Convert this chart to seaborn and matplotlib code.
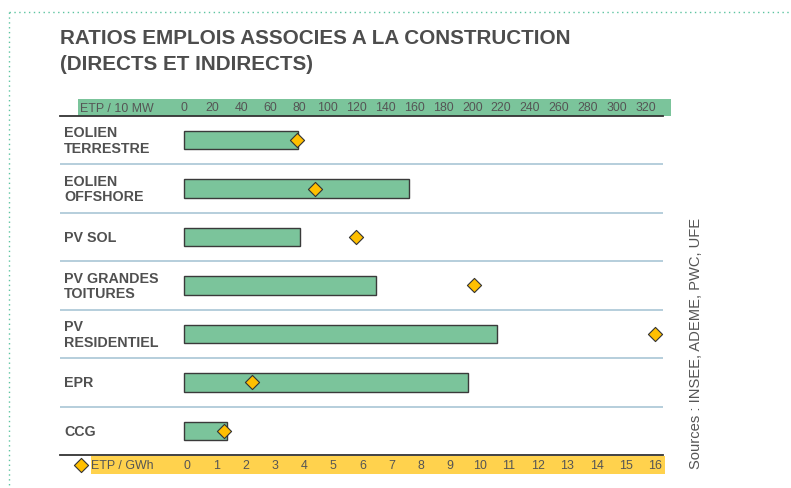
import numpy as np
import matplotlib
matplotlib.use("Agg")
import matplotlib.pyplot as plt
import seaborn as sns
from matplotlib.patches import Rectangle
from matplotlib.lines import Line2D

# data
categories = ["EOLIEN\nTERRESTRE", "EOLIEN\nOFFSHORE", "PV SOL", "PV GRANDES\nTOITURES",
              "PV\nRESIDENTIEL", "EPR", "CCG"]
etp_10mw = [79, 156, 81, 133, 217, 197, 30]          # bars, top scale
etp_gwh = [3.77, 4.38, 5.78, 9.82, 16.0, 2.23, 1.27]  # diamonds, bottom scale
top_ticks = list(range(0, 321, 20))
bottom_ticks = list(range(0, 17))

GREEN = "#7bc49b"
YELLOW = "#ffd24d"
DIAMOND = "#ffbf00"
TEXT = "#555555"
TICK_FS = 8.9

W, H = 791, 489


def fx(px):
    return px / W


def fy(py):
    return 1 - py / H


sns.set_theme(style="white")
plt.rcParams["font.family"] = ["Liberation Sans", "DejaVu Sans"]

fig = plt.figure(figsize=(W / 100, H / 100), dpi=100)

# dotted frame
fig.add_artist(Line2D([fx(9), fx(790)], [fy(13), fy(13)], ls=(0, (1, 2.5)), lw=1, color="#5cc4a0"))
fig.add_artist(Line2D([fx(9), fx(9)], [fy(13), fy(489)], ls=(0, (1, 2.5)), lw=1, color="#5cc4a0"))

# title
fig.text(fx(60), fy(44), "RATIOS EMPLOIS ASSOCIES A LA CONSTRUCTION", fontsize=14.9,
         fontweight="bold", color="#4d4d4d", va="baseline", ha="left")
fig.text(fx(60), fy(69.5), "(DIRECTS ET INDIRECTS)", fontsize=14.9,
         fontweight="bold", color="#4d4d4d", va="baseline", ha="left")

# axis bands
fig.add_artist(Rectangle((fx(78), fy(117)), fx(671) - fx(78), fy(100) - fy(117),
                         transform=fig.transFigure, color=GREEN, lw=0, zorder=-1))
fig.add_artist(Rectangle((fx(91), fy(474.5)), fx(665) - fx(91), fy(456.5) - fy(474.5),
                         transform=fig.transFigure, color=YELLOW, lw=0, zorder=-1))
fig.text(fx(80), fy(108.5), "ETP / 10 MW", fontsize=TICK_FS, color=TEXT, ha="left", va="center")

ax = fig.add_axes([fx(60), fy(456), fx(663) - fx(60), fy(117) - fy(456)])
ax.set_facecolor("none")

sns.barplot(x=etp_10mw, y=categories, orient="h", color=GREEN, saturation=1,
            edgecolor="#3a3a3a", linewidth=1, width=0.38, ax=ax, zorder=3)

for i in range(len(categories) - 1):
    ax.axhline(i + 0.5, color="#a9c6d6", lw=1.2, zorder=1)

for i, name in enumerate(categories):
    ax.text(4 / 603, i, name, transform=ax.get_yaxis_transform(), ha="left", va="center",
            fontsize=10.3, fontweight="bold", color="#505050", linespacing=1.15)

# diamonds on the second scale
ax2 = ax.twiny()
sns.scatterplot(x=etp_gwh, y=np.arange(len(categories)), marker="D", s=52, color=DIAMOND,
                edgecolor="#333333", linewidth=0.8, label="ETP / GWh", ax=ax2, zorder=5)
ax2.set_xlim((60 - 187) / 29.25, (663 - 187) / 29.25)
ax2.xaxis.set_ticks_position("bottom")
ax2.xaxis.set_label_position("bottom")
ax2.set_xticks(bottom_ticks)
ax2.set_xticklabels([str(t) for t in bottom_ticks])
ax2.tick_params(axis="x", length=0, labelsize=TICK_FS, colors=TEXT, pad=3.2,
                labeltop=False, labelbottom=True)
ax2.set_xlabel("")
ax2.set_ylabel("")
for s in ax2.spines.values():
    s.set_visible(False)

# first scale on top (after twiny, which moves it to the bottom)
ax.set_xlim((60 - 183.5) / 1.444, (663 - 183.5) / 1.444)
ax.xaxis.tick_top()
ax.set_xticks(top_ticks)
ax.set_xticklabels([str(t) for t in top_ticks])
ax.tick_params(axis="x", length=0, labelsize=TICK_FS, colors=TEXT, pad=2.2,
               labeltop=True, labelbottom=False)
ax.tick_params(axis="y", left=False, labelleft=False)
ax.set_xlabel("")
ax.set_ylabel("")
for s in ["left", "right"]:
    ax.spines[s].set_visible(False)
for s in ["top", "bottom"]:
    ax.spines[s].set_visible(True)
    ax.spines[s].set_color("#333333")
    ax.spines[s].set_linewidth(1.3)
ax.set_ylim(len(categories) - 0.5, -0.5)

leg = ax2.legend(loc="center left", bbox_to_anchor=(fx(75), fy(466)), bbox_transform=fig.transFigure,
                 frameon=False, handlelength=0.95, handletextpad=0.35, borderpad=0, borderaxespad=0,
                 fontsize=TICK_FS)
for t in leg.get_texts():
    t.set_color(TEXT)

fig.text(fx(696), fy(343.5), "Sources : INSEE, ADEME, PWC, UFE", rotation=90, fontsize=10.6,
         color=TEXT, ha="center", va="center")

fig.savefig("out.png", dpi=100)
